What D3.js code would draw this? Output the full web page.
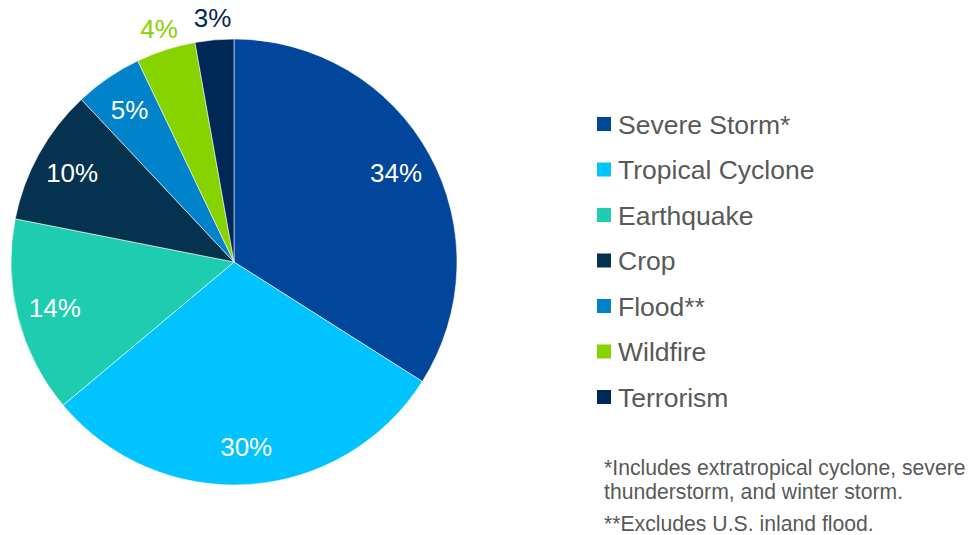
<!DOCTYPE html>
<html><head><meta charset="utf-8">
<script src="https://cdn.jsdelivr.net/npm/d3@7"></script>
<style>html,body{margin:0;padding:0;background:#fff;}svg{display:block;}</style>
</head><body>
<svg id="c" width="971" height="535"></svg>
<script>
const categories = ["Severe Storm*", "Tropical Cyclone", "Earthquake", "Crop", "Flood**", "Wildfire", "Terrorism"];
const values = [34.0, 29.9, 14.2, 9.9, 4.9, 4.3, 2.8];
const labels = ["34%", "30%", "14%", "10%", "5%", "4%", "3%"];
const colors = ["#00469a", "#00c3ff", "#1ecdb0", "#05324f", "#0083ca", "#86d300", "#002856"];
const outside = [false, false, false, false, false, true, true];
const footnotes = ["*Includes extratropical cyclone, severe", "thunderstorm, and winter storm.", "**Excludes U.S. inland flood."];

const svg = d3.select("#c");
const font = "'Liberation Sans', Arial, sans-serif";
const cx = 234, cy = 262, R = 223;
const data = categories.map((c, i) => ({c, v: values[i], label: labels[i], color: colors[i], out: outside[i]}));
const pie = d3.pie().value(d => d.v).sort(null);
const arcs = pie(data);
const arc = d3.arc().innerRadius(0).outerRadius(R);
const inArc = d3.arc().innerRadius(185).outerRadius(185);
const outArc = d3.arc().innerRadius(245).outerRadius(245);

const g = svg.append("g").attr("transform", `translate(${cx},${cy})`);
g.selectAll("path").data(arcs).enter().append("path")
  .attr("d", arc).attr("fill", d => d.data.color)
  .attr("stroke", "#ffffff").attr("stroke-width", 0.8).attr("stroke-opacity", 0.7);

g.selectAll("text").data(arcs).enter().append("text")
  .attr("transform", d => `translate(${(d.data.out ? outArc : inArc).centroid(d)})`)
  .attr("text-anchor", "middle").attr("dy", "0.36em")
  .attr("font-family", font).attr("font-size", 26)
  .attr("fill", d => d.data.out ? d.data.color : "#ffffff")
  .text(d => d.data.label);

const leg = svg.append("g");
const legY = d3.scalePoint().domain(categories).range([124, 397]);
categories.forEach((c, i) => {
  const y = legY(c);
  leg.append("rect").attr("x", 597).attr("y", y - 7).attr("width", 14).attr("height", 14).attr("fill", colors[i]);
  leg.append("text").attr("x", 618).attr("y", y).attr("dy", "0.36em")
    .attr("font-family", font).attr("font-size", 26.5).attr("fill", "#595959").text(c);
});

const fy = [467, 491, 523];
footnotes.forEach((t, i) => {
  svg.append("text").attr("x", 604).attr("y", fy[i]).attr("dy", "0.36em")
    .attr("font-family", font).attr("font-size", 21.2).attr("fill", "#595959").text(t);
});
</script>
</body></html>
